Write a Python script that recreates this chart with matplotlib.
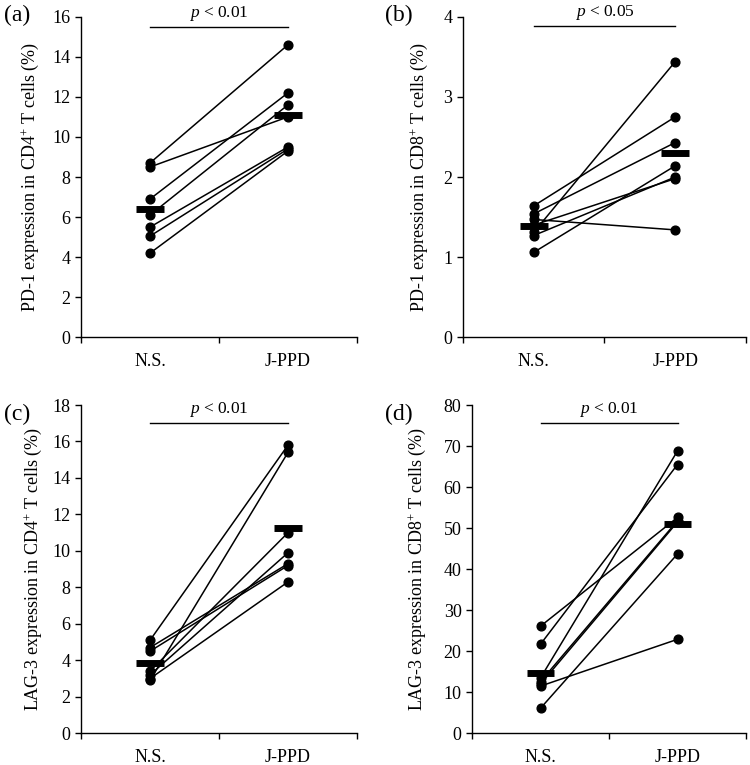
import numpy as np
import matplotlib
matplotlib.use("Agg")
import matplotlib.pyplot as plt

plt.rcParams['font.family'] = ['Liberation Serif', 'DejaVu Serif']
plt.rcParams['mathtext.fontset'] = 'custom'
plt.rcParams['mathtext.rm'] = 'Liberation Serif'
plt.rcParams['mathtext.it'] = 'Liberation Serif:italic'

groups = ['N.S.', 'J-PPD']

# paired values (N.S., J-PPD) per donor
pd1_cd4_ns = [8.7, 8.5, 6.9, 6.1, 5.5, 5.05, 4.2]
pd1_cd4_jppd = [14.6, 11.0, 12.2, 11.6, 9.5, 9.4, 9.3]

pd1_cd8_ns = [1.64, 1.54, 1.47, 1.40, 1.31, 1.27, 1.06]
pd1_cd8_jppd = [2.75, 2.43, 1.34, 1.98, 3.44, 2.0, 2.14]

lag3_cd4_ns = [5.1, 4.7, 4.5, 3.4, 3.2, 3.0, 2.9]
lag3_cd4_jppd = [15.8, 9.3, 9.2, 11.0, 9.9, 8.3, 15.4]

lag3_cd8_ns = [26.1, 21.7, 13.5, 12.6, 12.0, 11.5, 6.1]
lag3_cd8_jppd = [52.6, 65.5, 68.8, 51.8, 51.5, 22.9, 43.7]

ylabels = [r'PD-1 expression in CD4$^{+}$ T cells (%)',
           r'PD-1 expression in CD8$^{+}$ T cells (%)',
           r'LAG-3 expression in CD4$^{+}$ T cells (%)',
           r'LAG-3 expression in CD8$^{+}$ T cells (%)']
pvals = [r'$p$ < 0.01', r'$p$ < 0.05', r'$p$ < 0.01', r'$p$ < 0.01']
letters = ['(a)', '(b)', '(c)', '(d)']
ymax = [16, 4, 18, 80]
ystep = [2, 1, 2, 10]
pbar = [15.5, 3.88, 17.0, 75.5]

data = [(pd1_cd4_ns, pd1_cd4_jppd), (pd1_cd8_ns, pd1_cd8_jppd),
        (lag3_cd4_ns, lag3_cd4_jppd), (lag3_cd8_ns, lag3_cd8_jppd)]

W, H = 750, 765
fig = plt.figure(figsize=(7.5, 7.65), dpi=100)
# axes boxes in pixels: left, top, right, bottom
boxes = [(81, 16.7, 357, 337.3), (463, 16.7, 746, 337.3),
         (81, 405, 357, 733.3), (472, 405, 746, 733.3)]
label_x = [-0.145, -0.117, -0.134, -0.16]
letter_pos = [(4, 15), (385, 15), (4, 414), (385, 414)]

for i in range(4):
    l, t, r, b = boxes[i]
    ax = fig.add_axes([l / W, 1 - b / H, (r - l) / W, (b - t) / H])
    ns, jp = data[i]
    for a, c in zip(ns, jp):
        ax.plot([0, 1], [a, c], '-', color='black', lw=1.1, zorder=2)
    ax.plot(np.zeros(len(ns)), ns, 'o', color='black', ms=6.3, zorder=3)
    ax.plot(np.ones(len(jp)), jp, 'o', color='black', ms=6.3, zorder=3)
    ax.hlines([np.mean(ns), np.mean(jp)], [-0.1, 0.9], [0.1, 1.1],
              color='black', lw=5, zorder=4)
    ax.plot([0, 1], [pbar[i], pbar[i]], color='black', lw=1.0, clip_on=False)
    ax.annotate(pvals[i], (0.5, pbar[i]), xytext=(0, 3), textcoords='offset points',
                ha='center', va='bottom', fontsize=12.5, annotation_clip=False)

    ax.set_xlim(-0.5, 1.5)
    ax.set_ylim(0, ymax[i])
    ax.set_yticks(np.arange(0, ymax[i] + 0.001, ystep[i]))
    ax.set_xticks([0, 1])
    ax.set_xticklabels(groups, fontsize=13)
    ax.set_xticks([-0.5, 0.5, 1.5], minor=True)
    ax.tick_params(axis='x', which='major', length=0, pad=11)
    ax.tick_params(axis='x', which='minor', length=4, width=1.0, direction='out')
    ax.tick_params(axis='y', length=4, width=1.0, direction='out', labelsize=13)
    for s in ['top', 'right']:
        ax.spines[s].set_visible(False)
    for s in ['left', 'bottom']:
        ax.spines[s].set_linewidth(1.0)
    ax.set_ylabel(ylabels[i], fontsize=13)
    ax.yaxis.set_label_coords(label_x[i], 0.5)
    fig.text(letter_pos[i][0] / W, 1 - letter_pos[i][1] / H, letters[i],
             fontsize=17, ha='left', va='center')

fig.savefig('out.png', dpi=100)
